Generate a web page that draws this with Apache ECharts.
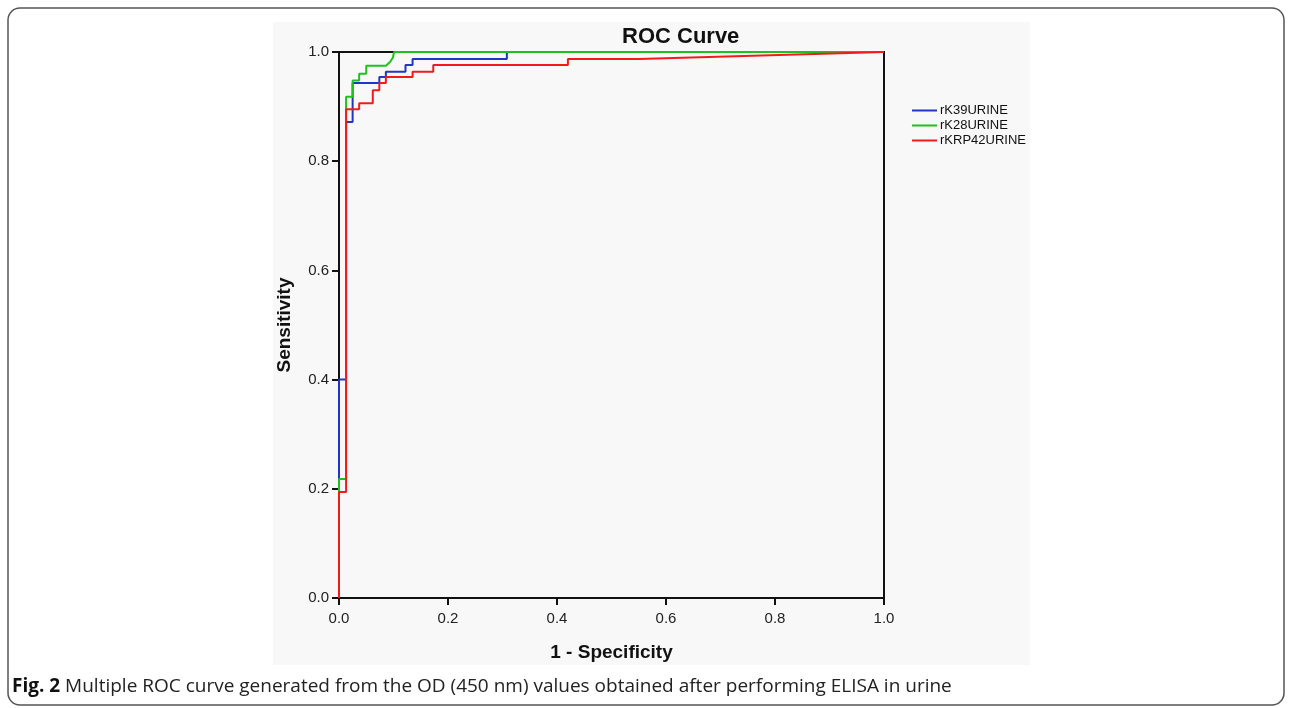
<!DOCTYPE html>
<html>
<head>
<meta charset="utf-8">
<script src="https://cdn.jsdelivr.net/npm/echarts@6/dist/echarts.min.js"></script>
<style>
  html, body { margin: 0; padding: 0; background: #fff; }
  #main { width: 1290px; height: 708px; }
</style>
</head>
<body>
<div id="main"></div>
<script>
var seriesNames = ['rK39URINE', 'rK28URINE', 'rKRP42URINE'];
var seriesColors = ['#2236c4', '#1ec21e', '#f41a1a'];

// [1 - specificity, sensitivity] step points
var rk39 = [[0, 0], [0, 0.4], [0.013, 0.4], [0.013, 0.872], [0.025, 0.872], [0.025, 0.943],
  [0.074, 0.943], [0.074, 0.954], [0.086, 0.954], [0.086, 0.964], [0.122, 0.964], [0.122, 0.976],
  [0.135, 0.976], [0.135, 0.987], [0.308, 0.987], [0.308, 1], [1, 1]];
var rk28 = [[0, 0], [0, 0.218], [0.013, 0.218], [0.013, 0.918], [0.025, 0.918], [0.025, 0.948],
  [0.037, 0.948], [0.037, 0.96], [0.05, 0.96], [0.05, 0.975], [0.086, 0.975], [0.094, 0.982],
  [0.099, 0.99], [0.101, 1], [1, 1]];
var rkrp42 = [[0, 0], [0, 0.194], [0.013, 0.194], [0.013, 0.895], [0.037, 0.895], [0.037, 0.906],
  [0.062, 0.906], [0.062, 0.93], [0.074, 0.93], [0.074, 0.943], [0.086, 0.943], [0.086, 0.954],
  [0.135, 0.954], [0.135, 0.964], [0.173, 0.964], [0.173, 0.976], [0.42, 0.976], [0.42, 0.987],
  [0.55, 0.987], [1, 1]];
var seriesData = [rk39, rk28, rkrp42];

var captionBold = 'Fig. 2';
var captionText = ' Multiple ROC curve generated from the OD (450 nm) values obtained after performing ELISA in urine';

var myChart = echarts.init(document.getElementById('main'));
var font = 'Liberation Sans, Arial, sans-serif';

var option = {
  animation: false,
  backgroundColor: '#fff',
  graphic: [
    {
      type: 'rect', z: -10,
      shape: { x: 8, y: 8, width: 1276, height: 697, r: 12 },
      style: { fill: '#fff', stroke: '#555', lineWidth: 1.5 }
    },
    {
      type: 'rect', z: -9,
      shape: { x: 273, y: 22, width: 757, height: 643 },
      style: { fill: '#f8f8f8' }
    },
    {
      type: 'text', left: 12, top: 677,
      style: {
        text: '{b|' + captionBold + '}{n|' + captionText + '}',
        rich: {
          b: { fontFamily: 'Open Sans', fontWeight: 'bold', fontSize: 19, fill: '#111' },
          n: { fontFamily: 'Open Sans', fontSize: 19, fill: '#222' }
        }
      }
    }
  ],
  title: {
    text: 'ROC Curve',
    left: 617, top: 21,
    textStyle: { fontFamily: font, fontWeight: 'bold', fontSize: 22, color: '#111' }
  },
  legend: {
    orient: 'vertical',
    left: 907, top: 99,
    icon: 'rect',
    itemWidth: 25, itemHeight: 2, itemGap: 2,
    data: seriesNames,
    textStyle: { fontFamily: font, fontSize: 13, color: '#111', padding: [0, 0, 0, -2] }
  },
  grid: {
    left: 339, right: 406, top: 52, bottom: 110,
    show: true, borderColor: '#111', borderWidth: 2, backgroundColor: 'transparent'
  },
  xAxis: {
    type: 'value', min: 0, max: 1, interval: 0.2,
    name: '1 - Specificity', nameLocation: 'middle', nameGap: 45,
    nameTextStyle: { fontFamily: font, fontWeight: 'bold', fontSize: 19, color: '#111' },
    axisLine: { lineStyle: { color: '#111', width: 2 } },
    axisTick: { length: 7, lineStyle: { color: '#111', width: 2 } },
    axisLabel: { fontFamily: font, fontSize: 15, color: '#222', margin: 13,
      formatter: function (v) { return v.toFixed(1); } },
    splitLine: { show: false }
  },
  yAxis: {
    type: 'value', min: 0, max: 1, interval: 0.2,
    name: 'Sensitivity', nameLocation: 'middle', nameGap: 45,
    nameTextStyle: { fontFamily: font, fontWeight: 'bold', fontSize: 19, color: '#111' },
    axisLine: { lineStyle: { color: '#111', width: 2 } },
    axisTick: { length: 7, lineStyle: { color: '#111', width: 2 } },
    axisLabel: { fontFamily: font, fontSize: 15, color: '#222', margin: 10,
      formatter: function (v) { return v.toFixed(1); } },
    splitLine: { show: false }
  },
  series: seriesNames.map(function (name, i) {
    return {
      name: name,
      type: 'line',
      data: seriesData[i],
      showSymbol: false,
      symbol: 'none',
      color: seriesColors[i],
      lineStyle: { width: 2, color: seriesColors[i] },
      z: 3 + i
    };
  })
};

myChart.setOption(option);
</script>
</body>
</html>
